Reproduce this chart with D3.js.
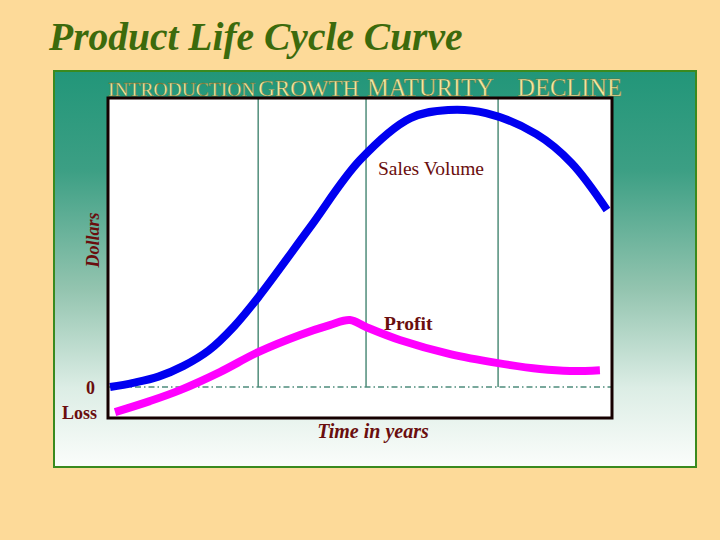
<!DOCTYPE html>
<html><head><meta charset="utf-8">
<script src="https://cdn.jsdelivr.net/npm/d3@7"></script>
<style>html,body{margin:0;padding:0;background:#FDDA99;}svg{display:block;}</style>
</head><body>
<script>
const stages = ["INTRODUCTION", "GROWTH", "MATURITY", "DECLINE"];
const stageStarts = [0, 29.8, 51.2, 77.4];
const stageLabelX = [0, 29.8, 51.4, 81.2];
const salesX = [0.4, 5, 10, 15, 20, 25, 30, 40, 50, 60, 67.5, 75, 85, 92, 99];
const salesY = [0, 1.5, 3.7, 7.5, 13.0, 21.5, 32.3, 56.5, 80.6, 95.5, 98.4, 97.3, 89.8, 79.5, 62.9];
const profitX = [1.4, 8.3, 14.3, 22.2, 29.8, 38.1, 44.0, 48.0, 51.2, 57.9, 67.9, 77.4, 85.7, 91.7, 97.6];
const profitY = [-8.9, -5.0, -1.1, 5.3, 12.4, 18.5, 22.0, 23.8, 21.3, 16.7, 11.7, 8.5, 6.4, 5.7, 6.0];
const yTickLabels = ["0", "Loss"];

const W = 720, H = 540;
const svg = d3.select("body").append("svg").attr("width", W).attr("height", H);
const maroon = "#6A0E0E";

svg.append("rect").attr("width", W).attr("height", H).attr("fill", "#FDDA99");

// title
svg.append("text").attr("x", 49).attr("y", 50)
  .attr("font-family", "Liberation Serif, serif").attr("font-weight", "bold").attr("font-style", "italic")
  .attr("font-size", 39.5).attr("fill", "#3C6A0C").text("Product Life Cycle Curve");

// gradient panel
const defs = svg.append("defs");
const grad = defs.append("linearGradient").attr("id", "pg").attr("x1", 0).attr("y1", 0).attr("x2", 0).attr("y2", 1);
grad.append("stop").attr("offset", "0%").attr("stop-color", "#229679");
grad.append("stop").attr("offset", "25%").attr("stop-color", "#3C9F84");
grad.append("stop").attr("offset", "55%").attr("stop-color", "#93C4AF");
grad.append("stop").attr("offset", "80%").attr("stop-color", "#DCEDE5");
grad.append("stop").attr("offset", "100%").attr("stop-color", "#FBFDFB");
svg.append("rect").attr("x", 54).attr("y", 71).attr("width", 642).attr("height", 396)
  .attr("fill", "url(#pg)").attr("stroke", "#3A8A1E").attr("stroke-width", 2);

const x = d3.scaleLinear().domain([0, 100]).range([108, 612]);
const y = d3.scaleLinear().domain([-11, 103]).range([418, 97]);

// plot area
svg.append("rect").attr("x", 108).attr("y", 98).attr("width", 504).attr("height", 320)
  .attr("fill", "#ffffff");

// stage labels (sized so they do not collide)
const stageFont = [19.5, 23, 24.5, 24.5];
svg.append("g").selectAll("text").data(stages).join("text")
  .attr("x", (d, i) => x(stageLabelX[i])).attr("y", 96)
  .attr("font-family", "Liberation Serif, serif").attr("font-size", (d, i) => stageFont[i])
  .attr("fill", "#F4E8A2").attr("stroke", "#6a6a28").attr("stroke-width", 0.35)
  .text(d => d);

// stage dividers
svg.append("g").selectAll("line").data(stageStarts.slice(1)).join("line")
  .attr("x1", d => x(d)).attr("x2", d => x(d)).attr("y1", 98).attr("y2", y(0))
  .attr("stroke", "#5B9482").attr("stroke-width", 1.6);

// zero line
svg.append("line").attr("x1", x(0)).attr("x2", x(100)).attr("y1", y(0)).attr("y2", y(0))
  .attr("stroke", "#4E8C7C").attr("stroke-width", 1.6).attr("stroke-dasharray", "6,3,1.5,3");

// curves
const line = d3.line().x(d => x(d[0])).y(d => y(d[1])).curve(d3.curveCatmullRom.alpha(0.5));
svg.append("path").datum(salesX.map((v, i) => [v, salesY[i]])).attr("d", line)
  .attr("fill", "none").attr("stroke", "#0000F0").attr("stroke-width", 8);
svg.append("path").datum(profitX.map((v, i) => [v, profitY[i]])).attr("d", line)
  .attr("fill", "none").attr("stroke", "#FF00FF").attr("stroke-width", 8);

// box border
svg.append("rect").attr("x", 108).attr("y", 98).attr("width", 504).attr("height", 320)
  .attr("fill", "none").attr("stroke", "#150000").attr("stroke-width", 3);

// y labels
svg.append("text").attr("x", 95).attr("y", y(0) + 7).attr("text-anchor", "end")
  .attr("font-family", "Liberation Serif, serif").attr("font-weight", "bold").attr("font-size", 18)
  .attr("fill", maroon).text(yTickLabels[0]);
svg.append("text").attr("x", 97).attr("y", y(0) + 32).attr("text-anchor", "end")
  .attr("font-family", "Liberation Serif, serif").attr("font-weight", "bold").attr("font-size", 18)
  .attr("fill", maroon).text(yTickLabels[1]);

svg.append("text").attr("transform", "translate(99,240) rotate(-90)").attr("text-anchor", "middle")
  .attr("font-family", "Liberation Serif, serif").attr("font-weight", "bold").attr("font-style", "italic")
  .attr("font-size", 18).attr("fill", maroon).text("Dollars");

svg.append("text").attr("x", 373).attr("y", 438).attr("text-anchor", "middle")
  .attr("font-family", "Liberation Serif, serif").attr("font-weight", "bold").attr("font-style", "italic")
  .attr("font-size", 20).attr("fill", maroon).text("Time in years");

svg.append("text").attr("x", 378).attr("y", 175)
  .attr("font-family", "Liberation Serif, serif").attr("font-size", 19.5)
  .attr("fill", maroon).text("Sales Volume");

svg.append("text").attr("x", 384).attr("y", 330)
  .attr("font-family", "Liberation Serif, serif").attr("font-weight", "bold").attr("font-size", 19.5)
  .attr("fill", maroon).text("Profit");
</script>
</body></html>
